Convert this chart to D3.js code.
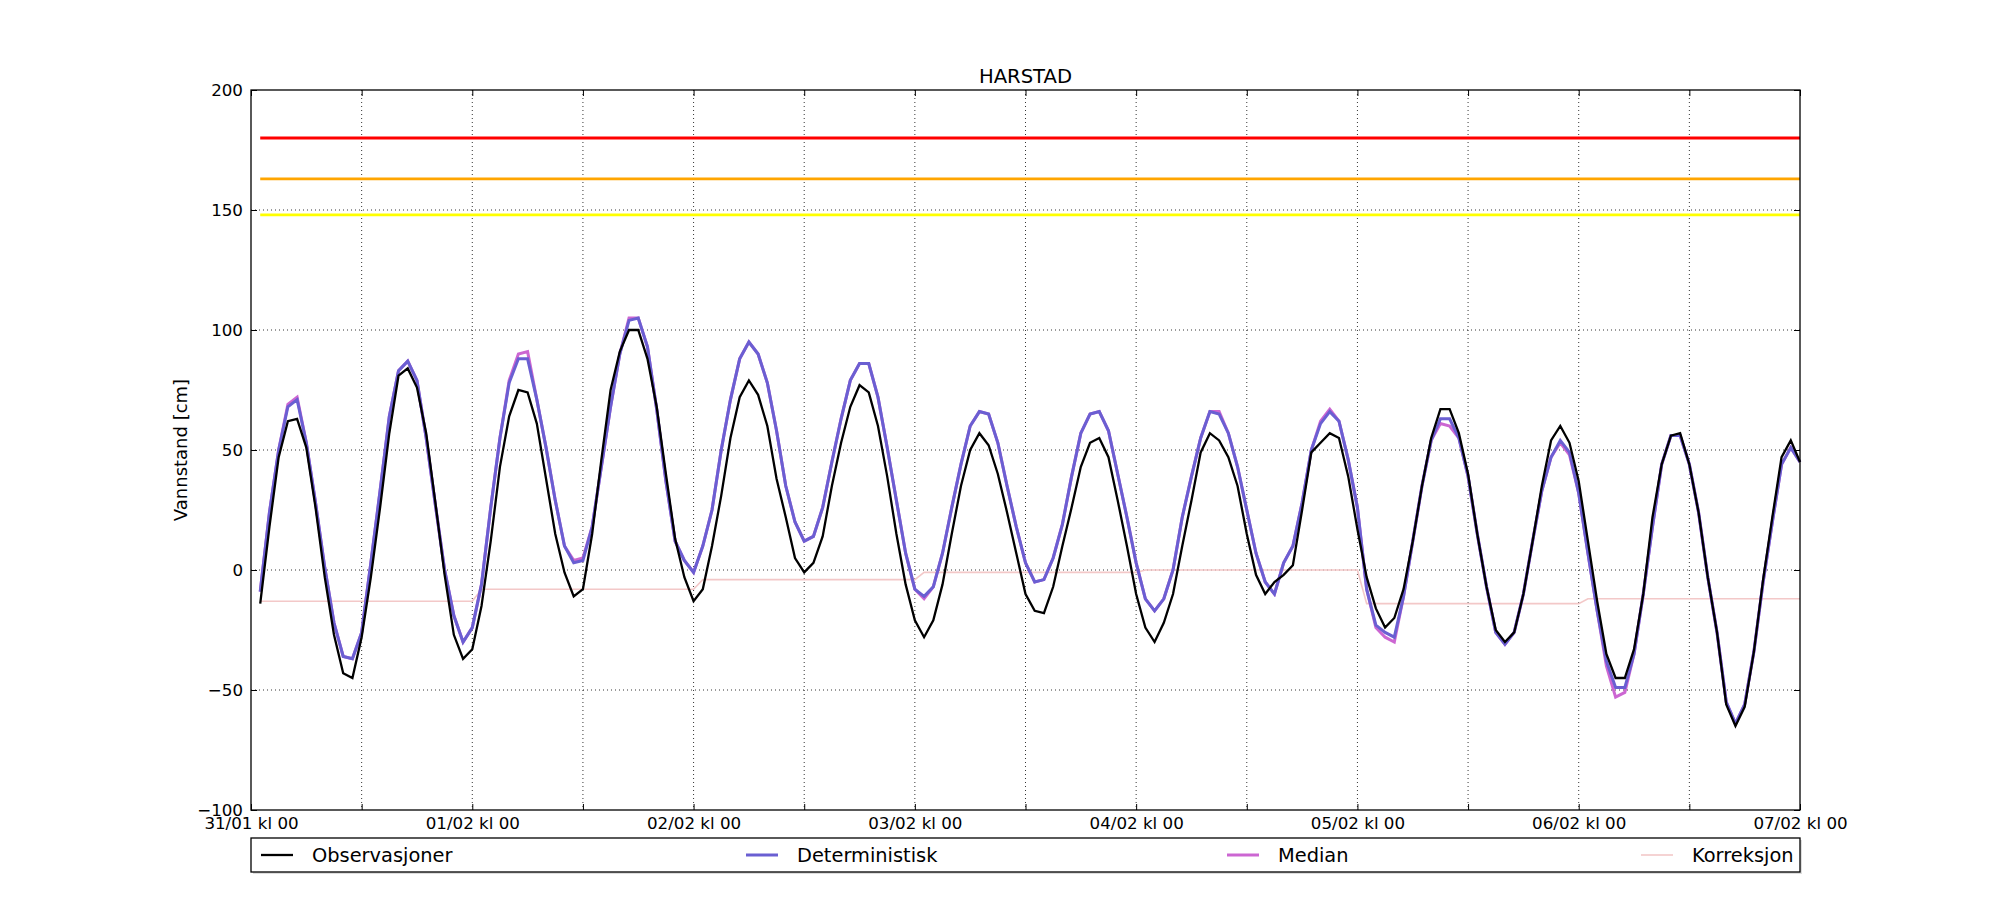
<!DOCTYPE html>
<html>
<head>
<meta charset="utf-8">
<script src="https://cdn.jsdelivr.net/npm/d3@7"></script>
<style>
body { margin: 0; background: #fff; }
text { font-family: "DejaVu Sans", sans-serif; fill: #000; }
</style>
</head>
<body>
<svg id="chart" width="2000" height="900"></svg>
<script>
// Station and labels
var stasjon = "HARSTAD";
var yLabel = "Vannstand [cm]";
var serieNavn = ["Observasjoner", "Deterministisk", "Median", "Korreksjon"];
var dagLabels = ["31/01 kl 00", "01/02 kl 00", "02/02 kl 00", "03/02 kl 00",
                 "04/02 kl 00", "05/02 kl 00", "06/02 kl 00", "07/02 kl 00"];
var yTicks = [-100, -50, 0, 50, 100, 150, 200];

// Hourly values, first value is 31/01 kl 01
var forsteTime = 1;

var observasjoner = [
  -14, 18, 47, 62, 63, 51, 26, -3, -27, -43, -45, -28,
  -3, 26, 57, 81, 84, 76, 57, 28, -2, -27, -37, -33,
  -15, 12, 43, 64, 75, 74, 61, 38, 15, -1, -11, -8,
  15, 46, 75, 91, 100, 100, 88, 68, 40, 13, -3, -13,
  -8, 10, 31, 55, 72, 79, 73, 60, 38, 22, 5, -1,
  3, 14, 35, 53, 68, 77, 74, 60, 39, 15, -6, -21,
  -28, -21, -6, 15, 35, 50, 57, 52, 40, 24, 7, -10,
  -17, -18, -7, 10, 26, 43, 53, 55, 47, 29, 10, -10,
  -24, -30, -22, -10, 10, 29, 49, 57, 54, 47, 35, 15,
  -2, -10, -5, -2, 2, 25, 49, 53, 57, 55, 39, 17,
  -3, -16, -24, -20, -8, 12, 35, 55, 67, 67, 57, 40,
  15, -7, -25, -30, -26, -10, 12, 35, 54, 60, 53, 37,
  12, -13, -35, -45, -45, -33, -10, 22, 44, 56, 57, 44,
  24, -3, -26, -56, -65, -57, -34, -4, 22, 47, 54, 45
];

var deterministisk = [
  -9, 24, 50, 68, 71, 53, 28, 1, -22, -36, -37, -26,
  3, 33, 64, 83, 87, 79, 55, 27, 0, -19, -30, -24,
  -6, 26, 55, 78, 88, 88, 71, 51, 29, 10, 3, 4,
  18, 43, 68, 90, 104, 105, 93, 67, 37, 12, 4, -1,
  10, 25, 50, 71, 88, 95, 90, 78, 58, 35, 20, 12,
  14, 26, 45, 63, 79, 86, 86, 72, 51, 29, 7, -8,
  -11, -7, 7, 26, 44, 60, 66, 65, 53, 35, 18, 3,
  -5, -4, 5, 19, 39, 57, 65, 66, 58, 40, 22, 3,
  -12, -17, -12, 0, 22, 39, 55, 66, 65, 57, 43, 25,
  7, -5, -10, 3, 10, 28, 50, 61, 66, 62, 46, 26,
  -8, -23, -26, -28, -11, 12, 35, 54, 63, 63, 55, 39,
  15, -7, -26, -31, -26, -10, 12, 33, 47, 54, 49, 32,
  7, -17, -38, -49, -49, -35, -10, 18, 44, 56, 56, 44,
  24, -3, -26, -55, -64, -56, -34, -5, 20, 44, 51, 45
];

var median = [
  -9, 24, 50, 69, 72, 53, 28, 1, -22, -36, -37, -26,
  3, 33, 64, 83, 87, 79, 55, 27, 0, -19, -30, -24,
  -6, 26, 55, 79, 90, 91, 71, 51, 29, 10, 4, 5,
  18, 43, 68, 90, 105, 105, 93, 67, 37, 12, 4, -1,
  10, 25, 50, 71, 88, 95, 90, 78, 58, 35, 20, 12,
  14, 26, 45, 63, 79, 86, 86, 72, 51, 29, 7, -8,
  -12, -7, 7, 26, 44, 60, 66, 65, 53, 35, 18, 3,
  -5, -4, 5, 19, 39, 57, 65, 66, 58, 40, 22, 3,
  -12, -17, -12, 0, 22, 39, 55, 66, 66, 57, 43, 25,
  7, -5, -10, 3, 10, 28, 50, 62, 67, 62, 46, 26,
  -8, -24, -28, -30, -11, 12, 35, 54, 61, 60, 55, 39,
  15, -7, -26, -31, -26, -10, 12, 33, 47, 53, 48, 32,
  7, -17, -40, -53, -51, -35, -10, 18, 44, 56, 56, 44,
  24, -3, -26, -55, -64, -56, -34, -5, 20, 44, 51, 45
];

// Correction, one value per day (constant over the 24 hours)
var korreksjonPerDag = [-13, -8, -4, -1, 0, -14, -12];

// Warning levels
var terskelVerdier = [180, 163, 148];

// ---------------------------------------------------------------
var W = 2000, H = 900;
var pLeft = 251, pRight = 1800, pTop = 90, pBottom = 810;
var fontTick = "16.7px", fontLabel = "18px", fontTitle = "19.6px", fontLegend = "19.4px";
var terskelFarger = ["#ff0000", "#ffa500", "#ffff00"];
var farger = ["#000000", "#6a5fd2", "#cc66d2", "#f3c8c8"];
var bredder = [2.3, 3, 3, 1.6];

var svg = d3.select("#chart");
svg.append("rect").attr("width", W).attr("height", H).attr("fill", "#fff");

var antDager = dagLabels.length - 1;
var x = d3.scaleLinear().domain([0, antDager * 24]).range([pLeft, pRight]);
var y = d3.scaleLinear().domain([-100, 200]).range([pBottom, pTop]);

var xTicks = d3.range(0, antDager * 24 + 1, 12);

// grid
var grid = svg.append("g")
    .attr("stroke", "#000")
    .attr("stroke-width", 0.8)
    .attr("stroke-dasharray", "1,3");
grid.selectAll(".gx").data(xTicks.slice(1, -1)).enter().append("line")
    .attr("x1", function (d) { return x(d); })
    .attr("x2", function (d) { return x(d); })
    .attr("y1", pTop).attr("y2", pBottom);
grid.selectAll(".gy").data(yTicks.slice(1, -1)).enter().append("line")
    .attr("y1", function (d) { return y(d); })
    .attr("y2", function (d) { return y(d); })
    .attr("x1", pLeft).attr("x2", pRight);

// series as {t, v}
function tilPunkter(arr) {
    return arr.map(function (v, i) { return { t: forsteTime + i, v: v }; });
}
var korrPunkter = observasjoner.map(function (d, i) {
    var t = forsteTime + i;
    return { t: t, v: korreksjonPerDag[Math.floor((t - 1) / 24)] };
});

var line = d3.line()
    .x(function (d) { return x(d.t); })
    .y(function (d) { return y(d.v); });

var plot = svg.append("g");

// warning levels
var tStart = forsteTime, tEnd = forsteTime + observasjoner.length - 1;
plot.selectAll(".terskel").data(terskelVerdier).enter().append("line")
    .attr("x1", x(tStart)).attr("x2", x(tEnd))
    .attr("y1", function (d) { return y(d); })
    .attr("y2", function (d) { return y(d); })
    .attr("stroke", function (d, i) { return terskelFarger[i]; })
    .attr("stroke-width", 2.8);

// korreksjon, median, deterministisk, observasjoner (on top)
var serier = [observasjoner, deterministisk, median, null];
[3, 2, 1, 0].forEach(function (k) {
    var pts = k === 3 ? korrPunkter : tilPunkter(serier[k]);
    plot.append("path")
        .datum(pts)
        .attr("d", line)
        .attr("fill", "none")
        .attr("stroke", farger[k])
        .attr("stroke-width", bredder[k])
        .attr("stroke-linejoin", "miter");
});

// axes with inward ticks
svg.append("g")
    .attr("transform", "translate(0," + pBottom + ")")
    .call(d3.axisBottom(x).tickValues(xTicks)
        .tickSizeInner(-6).tickSizeOuter(0).tickPadding(7)
        .tickFormat(function (d) { return d % 24 === 0 ? dagLabels[d / 24] : ""; }));
svg.append("g")
    .attr("transform", "translate(0," + pTop + ")")
    .call(d3.axisTop(x).tickValues(xTicks)
        .tickSizeInner(-6).tickSizeOuter(0).tickFormat(""));
svg.append("g")
    .attr("transform", "translate(" + pLeft + ",0)")
    .call(d3.axisLeft(y).tickValues(yTicks)
        .tickSizeInner(-6).tickSizeOuter(0).tickPadding(8));
svg.append("g")
    .attr("transform", "translate(" + pRight + ",0)")
    .call(d3.axisRight(y).tickValues(yTicks)
        .tickSizeInner(-6).tickSizeOuter(0).tickFormat(""));

svg.selectAll(".domain").remove();
svg.selectAll(".tick line").attr("stroke", "#000").attr("stroke-width", 1);
svg.selectAll(".tick text")
    .style("font-family", "'DejaVu Sans', sans-serif")
    .style("font-size", fontTick)
    .attr("fill", "#000");

// frame
svg.append("rect")
    .attr("x", pLeft).attr("y", pTop)
    .attr("width", pRight - pLeft).attr("height", pBottom - pTop)
    .attr("fill", "none").attr("stroke", "#000").attr("stroke-width", 1.3);

// title and y label
svg.append("text")
    .attr("x", (pLeft + pRight) / 2).attr("y", 83)
    .attr("text-anchor", "middle")
    .style("font-size", fontTitle)
    .text(stasjon);

svg.append("text")
    .attr("transform", "translate(187," + ((pTop + pBottom) / 2) + ") rotate(-90)")
    .attr("text-anchor", "middle")
    .style("font-size", fontLabel)
    .text(yLabel);

// legend, 4 columns spread over the axes width
var legTop = 838, legH = 34;
svg.append("rect")
    .attr("x", pLeft + 2).attr("y", legTop + 2)
    .attr("width", pRight - pLeft).attr("height", legH)
    .attr("fill", "#ddd");
svg.append("rect")
    .attr("x", pLeft).attr("y", legTop)
    .attr("width", pRight - pLeft).attr("height", legH)
    .attr("fill", "#fff").attr("stroke", "#000").attr("stroke-width", 1.3);

var legX = [261, 746, 1227, 1641];
var leg = svg.selectAll(".leg").data(serieNavn).enter().append("g")
    .attr("transform", function (d, i) {
        return "translate(" + legX[i] + "," + (legTop + legH / 2) + ")";
    });
leg.append("line")
    .attr("x1", 0).attr("x2", 32)
    .attr("stroke", function (d, i) { return farger[i]; })
    .attr("stroke-width", function (d, i) { return bredder[i]; });
leg.append("text")
    .attr("x", 51).attr("dy", "0.35em")
    .style("font-size", fontLegend)
    .text(function (d) { return d; });
</script>
</body>
</html>
